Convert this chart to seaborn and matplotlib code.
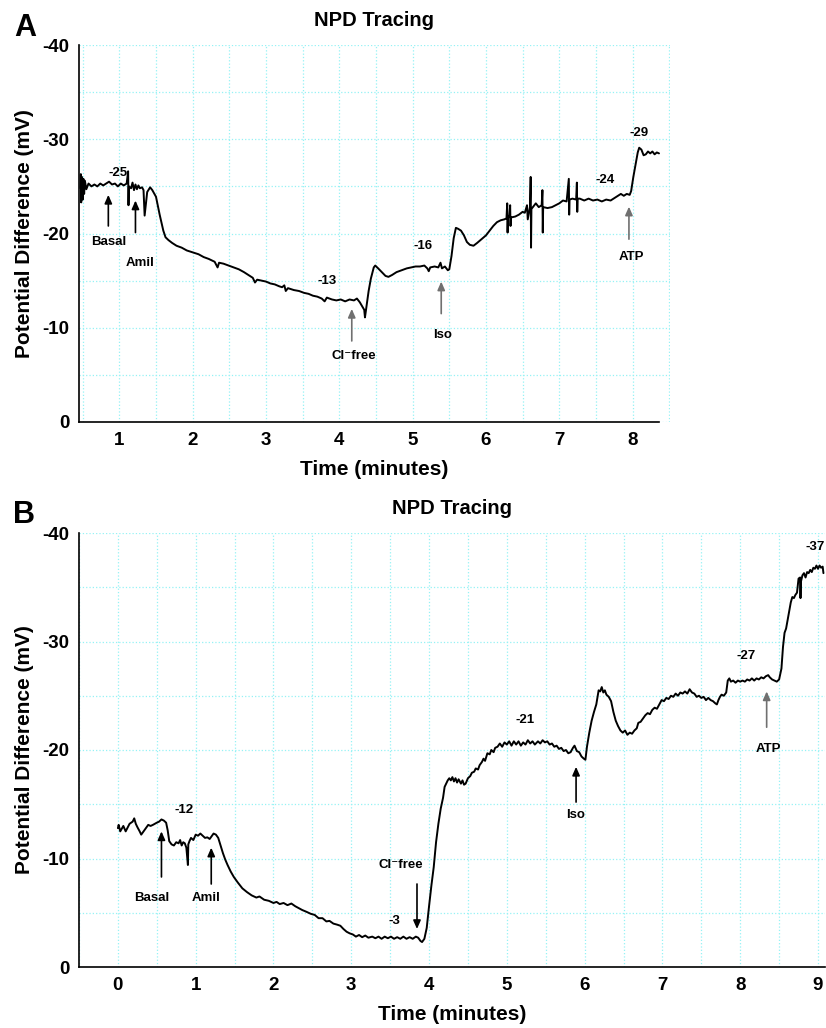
import numpy as np
import pandas as pd
import matplotlib
matplotlib.use("Agg")
import matplotlib.pyplot as plt
import seaborn as sns

# ---- panel A trace (time in minutes, PD in mV) ----
time_a = [0.47, 0.475, 0.48, 0.49, 0.50, 0.51, 0.52, 0.53, 0.55, 0.58, 0.62, 0.66, 0.70, 0.74,
          0.78, 0.82, 0.86, 0.90, 0.94, 0.98, 1.02, 1.06, 1.10, 1.12, 1.125, 1.13, 1.16, 1.18,
          1.20, 1.22, 1.24, 1.26, 1.28, 1.31, 1.33, 1.345, 1.36, 1.38, 1.42, 1.45, 1.50, 1.55,
          1.60, 1.63, 1.67, 1.72, 1.78, 1.85, 1.92, 2.00, 2.08, 2.15, 2.22, 2.30, 2.34, 2.36,
          2.42, 2.49, 2.56, 2.63, 2.70, 2.76, 2.82, 2.85, 2.88, 2.94, 3.00, 3.06, 3.12, 3.18,
          3.22, 3.25, 3.27, 3.30, 3.38, 3.45, 3.52, 3.58, 3.64, 3.70, 3.76, 3.80, 3.83, 3.90,
          3.96, 4.02, 4.08, 4.14, 4.20, 4.24, 4.28, 4.31, 4.34, 4.35, 4.37, 4.40, 4.43, 4.47,
          4.49, 4.53, 4.58, 4.63, 4.67, 4.72, 4.78, 4.85, 4.92, 4.98, 5.04, 5.10, 5.16, 5.20,
          5.22, 5.24, 5.30, 5.35, 5.38, 5.40, 5.44, 5.48, 5.50, 5.53, 5.56, 5.59, 5.62, 5.66,
          5.70, 5.74, 5.78, 5.83, 5.88, 5.94, 6.00, 6.05, 6.10, 6.15, 6.20, 6.25, 6.28, 6.29,
          6.295, 6.30, 6.32, 6.33, 6.335, 6.34, 6.40, 6.45, 6.50, 6.53, 6.56, 6.57, 6.60, 6.61,
          6.615, 6.62, 6.65, 6.68, 6.72, 6.76, 6.77, 6.775, 6.78, 6.84, 6.90, 6.95, 7.00, 7.05,
          7.10, 7.13, 7.135, 7.14, 7.18, 7.23, 7.24, 7.245, 7.25, 7.28, 7.34, 7.40, 7.46, 7.52,
          7.58, 7.64, 7.70, 7.76, 7.80, 7.84, 7.88, 7.92, 7.96, 7.98, 8.01, 8.04, 8.07, 8.09,
          8.12, 8.15, 8.18, 8.21, 8.24, 8.27, 8.30, 8.33, 8.36]
pd_a = [-24.8, -26.3, -23.3, -26.0, -23.6, -25.8, -24.2, -25.6, -24.7, -25.3, -25.0, -25.2, -25.0, -25.3,
        -25.1, -25.3, -25.5, -25.2, -25.3, -25.0, -25.3, -25.1, -25.3, -26.6, -23.0, -25.0, -24.8, -25.4,
        -24.6, -25.2, -24.7, -25.1, -24.8, -24.9, -24.6, -21.9, -23.0, -24.4, -24.9, -24.6, -23.9, -22.0,
        -20.3, -19.6, -19.3, -19.0, -18.7, -18.5, -18.2, -18.0, -17.8, -17.5, -17.3, -17.0, -16.4, -16.9,
        -16.8, -16.6, -16.4, -16.2, -15.9, -15.6, -15.3, -14.8, -15.1, -15.0, -14.9, -14.7, -14.6, -14.4,
        -14.3, -14.5, -13.9, -14.2, -14.0, -13.9, -13.7, -13.6, -13.4, -13.3, -13.1, -12.8, -13.2, -13.0,
        -12.9, -13.0, -12.8, -13.0, -12.9, -13.1, -12.7, -12.3, -11.9, -11.1, -12.2, -13.9, -15.2, -16.4,
        -16.6, -16.3, -15.9, -15.5, -15.4, -15.6, -15.9, -16.1, -16.3, -16.4, -16.5, -16.5, -16.6, -16.3,
        -16.0, -16.4, -16.5, -16.4, -16.9, -16.3, -16.5, -16.1, -16.2, -17.6, -19.5, -20.6, -20.5, -20.3,
        -19.8, -19.1, -18.8, -18.7, -19.0, -19.4, -19.8, -20.3, -20.8, -21.2, -21.4, -21.5, -21.6, -23.2,
        -20.1, -21.6, -21.9, -23.0, -20.8, -21.7, -21.8, -22.0, -22.3, -22.2, -23.0, -21.5, -22.8, -26.0,
        -18.5, -22.6, -22.9, -23.2, -22.8, -23.0, -24.6, -20.1, -22.8, -22.7, -22.8, -23.0, -23.2, -23.5,
        -23.4, -25.8, -22.0, -23.6, -23.7, -23.6, -25.4, -22.3, -23.7, -23.7, -23.5, -23.7, -23.5, -23.6,
        -23.4, -23.6, -23.5, -23.8, -24.0, -24.2, -24.0, -24.2, -24.1, -24.5, -26.0, -27.3, -28.6, -29.1,
        -28.9, -28.3, -28.4, -28.7, -28.5, -28.7, -28.4, -28.6, -28.5]

# ---- panel B trace ----
time_b = [0.00, 0.01, 0.03, 0.07, 0.10, 0.15, 0.19, 0.21, 0.23, 0.25, 0.28, 0.30, 0.33, 0.36, 0.39,
          0.42, 0.45, 0.50, 0.53, 0.56, 0.59, 0.62, 0.64, 0.66, 0.69, 0.72, 0.75, 0.78, 0.80, 0.82,
          0.84, 0.86, 0.88, 0.90, 0.905, 0.92, 0.94, 0.97, 1.00, 1.03, 1.06, 1.09, 1.12, 1.15, 1.18,
          1.21, 1.23, 1.26, 1.29, 1.32, 1.35, 1.38, 1.41, 1.45, 1.49, 1.54, 1.60, 1.66, 1.72, 1.78,
          1.82, 1.88, 1.94, 2.00, 2.04, 2.08, 2.13, 2.18, 2.23, 2.28, 2.33, 2.37, 2.42, 2.48, 2.53,
          2.58, 2.63, 2.68, 2.72, 2.77, 2.82, 2.86, 2.90, 2.94, 2.98, 3.02, 3.06, 3.10, 3.14, 3.18,
          3.22, 3.27, 3.31, 3.35, 3.39, 3.43, 3.47, 3.51, 3.55, 3.59, 3.63, 3.67, 3.71, 3.75, 3.79,
          3.83, 3.86, 3.89, 3.91, 3.94, 3.97, 4.00, 4.03, 4.06, 4.09, 4.12, 4.15, 4.18, 4.20, 4.22,
          4.24, 4.26, 4.28, 4.30, 4.32, 4.34, 4.36, 4.38, 4.41, 4.43, 4.45, 4.47, 4.50, 4.53, 4.55,
          4.58, 4.60, 4.63, 4.65, 4.68, 4.70, 4.72, 4.75, 4.78, 4.80, 4.83, 4.85, 4.88, 4.91, 4.94,
          4.97, 5.00, 5.03, 5.06, 5.09, 5.12, 5.15, 5.18, 5.21, 5.24, 5.27, 5.30, 5.33, 5.36, 5.40,
          5.43, 5.46, 5.49, 5.52, 5.55, 5.58, 5.61, 5.64, 5.67, 5.70, 5.73, 5.76, 5.79, 5.82, 5.85,
          5.87, 5.90, 5.93, 5.96, 5.99, 6.01, 6.03, 6.06, 6.09, 6.12, 6.15, 6.18, 6.20, 6.22, 6.24,
          6.26, 6.28, 6.31, 6.34, 6.37, 6.40, 6.43, 6.46, 6.49, 6.52, 6.55, 6.58, 6.61, 6.64, 6.67,
          6.69, 6.72, 6.75, 6.78, 6.81, 6.84, 6.87, 6.90, 6.93, 6.96, 6.99, 7.02, 7.05, 7.08, 7.11,
          7.14, 7.17, 7.20, 7.23, 7.26, 7.29, 7.32, 7.35, 7.38, 7.41, 7.44, 7.47, 7.50, 7.53, 7.56,
          7.59, 7.62, 7.65, 7.68, 7.70, 7.72, 7.74, 7.76, 7.79, 7.82, 7.84, 7.86, 7.88, 7.91, 7.94,
          7.97, 8.00, 8.03, 8.06, 8.09, 8.12, 8.15, 8.18, 8.21, 8.24, 8.27, 8.30, 8.33, 8.36, 8.38,
          8.41, 8.44, 8.47, 8.50, 8.53, 8.55, 8.57, 8.59, 8.61, 8.63, 8.65, 8.67, 8.69, 8.71, 8.73,
          8.75, 8.77, 8.775, 8.78, 8.80, 8.82, 8.84, 8.86, 8.88, 8.90, 8.92, 8.94, 8.96, 8.98, 9.00,
          9.02, 9.04, 9.06, 9.07]
pd_b = [-12.8, -13.1, -12.5, -13.0, -12.5, -13.2, -13.4, -13.7, -13.2, -12.9, -12.5, -12.2, -12.5, -12.8, -13.1,
        -13.0, -13.1, -13.3, -13.4, -13.6, -13.5, -13.3, -12.6, -11.6, -11.3, -11.2, -11.5, -11.4, -11.7, -11.2,
        -11.5, -11.4, -11.0, -9.4, -11.3, -11.6, -11.9, -11.7, -12.2, -12.1, -12.3, -12.1, -11.9, -11.95, -11.8,
        -12.1, -12.3, -12.2, -11.9, -11.2, -10.5, -9.9, -9.4, -8.8, -8.3, -7.8, -7.25, -6.9, -6.6, -6.4,
        -6.5, -6.2, -6.1, -5.9, -6.0, -5.8, -5.9, -5.7, -5.85, -5.6, -5.4, -5.25, -5.1, -4.9, -4.8,
        -4.5, -4.5, -4.2, -4.25, -4.0, -3.9, -3.8, -3.5, -3.25, -3.1, -3.0, -2.8, -2.95, -2.75, -2.9,
        -2.7, -2.8, -2.65, -2.8, -2.6, -2.8, -2.65, -2.8, -2.6, -2.75, -2.6, -2.8, -2.6, -2.75, -2.6,
        -2.8, -2.7, -2.4, -2.3, -2.6, -3.6, -5.6, -7.5, -9.2, -11.5, -13.2, -14.6, -15.6, -16.6, -16.9,
        -17.2, -17.4, -17.2, -17.5, -17.1, -17.4, -17.0, -17.3, -16.9, -17.2, -16.8, -16.9, -17.4, -17.6, -17.9,
        -18.0, -18.3, -18.2, -18.6, -18.9, -19.2, -19.0, -19.7, -19.6, -20.0, -19.8, -20.2, -20.3, -20.6, -20.3,
        -20.7, -20.5, -20.8, -20.4, -20.8, -20.5, -20.8, -20.4, -20.7, -20.5, -20.9, -20.6, -20.8, -20.5, -20.8,
        -20.6, -20.9, -20.7, -20.8, -20.5, -20.6, -20.3, -20.4, -20.1, -20.2, -19.9, -20.0, -19.7, -19.8, -20.2,
        -20.4, -19.9, -19.8, -19.4, -19.2, -19.1, -20.3, -21.6, -22.7, -23.5, -24.2, -25.5, -25.4, -25.8, -25.3,
        -25.5, -25.1, -24.9, -24.5, -23.5, -22.7, -22.2, -21.8, -21.6, -21.8, -21.4, -21.6, -21.5, -21.8, -22.0,
        -22.5, -22.6, -22.9, -23.2, -23.4, -23.3, -23.7, -23.9, -23.8, -24.2, -24.6, -24.5, -24.8, -24.7, -25.0,
        -24.9, -25.2, -25.0, -25.3, -25.2, -25.4, -25.2, -25.6, -25.3, -25.2, -24.9, -25.0, -24.8, -24.9, -24.6,
        -24.8, -24.6, -24.5, -24.3, -24.2, -24.6, -24.9, -25.1, -25.0, -25.3, -26.4, -26.6, -26.3, -26.4, -26.2,
        -26.4, -26.3, -26.4, -26.3, -26.5, -26.4, -26.6, -26.4, -26.6, -26.5, -26.7, -26.6, -26.8, -26.9, -26.7,
        -26.5, -26.4, -26.3, -26.5, -27.5, -29.5, -30.8, -31.2, -32.0, -32.8, -33.6, -34.1, -34.0, -34.3, -34.5,
        -35.8, -35.9, -34.0, -35.5, -36.1, -36.3, -35.9, -36.4, -36.3, -36.6, -36.4, -36.8, -36.7, -37.0, -36.7,
        -37.0, -36.8, -36.9, -36.3]

# ---- annotations: (label, x, y) for values, (label, x_text, y_text, x_arrow, y_head, y_tail, colour) ----
values_a = [("-25", 0.98, -26.4), ("-13", 3.84, -15.0), ("-16", 5.14, -18.7),
            ("-24", 7.63, -25.7), ("-29", 8.09, -30.7)]
arrows_a = [("Basal", 0.85, -19.1, 0.85, -24.1, -20.8, "black"),
            ("Amil", 1.29, -16.9, 1.22, -23.5, -20.1, "black"),
            ("Cl\u207bfree", 4.20, -7.0, 4.17, -12.0, -8.6, "#707070"),
            ("Iso", 5.41, -9.2, 5.39, -14.9, -11.5, "#707070"),
            ("ATP", 7.98, -17.5, 7.95, -22.85, -19.4, "#707070")]

values_b = [("-12", 0.855, -14.5), ("-3", 3.55, -4.2), ("-21", 5.24, -22.8),
            ("-27", 8.08, -28.7), ("-37", 8.97, -38.7)]
arrows_b = [("Basal", 0.43, -6.4, 0.56, -12.5, -8.3, "black"),
            ("Amil", 1.13, -6.4, 1.20, -11.0, -7.65, "black"),
            ("Cl\u207bfree", 3.64, -9.4, 3.845, -3.5, -7.65, "black"),
            ("Iso", 5.885, -14.0, 5.89, -18.45, -15.2, "black"),
            ("ATP", 8.365, -20.1, 8.34, -25.4, -22.1, "#707070")]

FONT = ["Liberation Sans", "DejaVu Sans"]


def style_axes(ax, xlim, xmajor, spine_end=None):
    ax.set_xlim(*xlim)
    ax.set_ylim(0, -40)
    ax.set_xticks(xmajor)
    ax.set_xticks(np.arange(xmajor[0] - 0.5, xlim[1], 0.5), minor=True)
    ax.set_yticks([0, -10, -20, -30, -40])
    ax.set_yticks([-5, -15, -25, -35], minor=True)
    ax.grid(True, which="both", color="#95f2f5", linestyle=":", linewidth=0.9)
    ax.set_axisbelow(True)
    sns.despine(ax=ax)
    for side in ["left", "bottom"]:
        ax.spines[side].set_linewidth(1.2)
        ax.spines[side].set_color("black")
    if spine_end is not None:
        ax.spines["bottom"].set_bounds(xlim[0], spine_end)
    ax.tick_params(which="major", direction="out", length=4, width=1, pad=3, colors="black")
    ax.tick_params(which="minor", direction="out", length=2.5, width=0.8, colors="black")
    for lab in ax.get_xticklabels() + ax.get_yticklabels():
        lab.set_fontsize(13.5)
        lab.set_fontweight("bold")
    ax.set_xlabel("Time (minutes)", fontsize=15, fontweight="bold", labelpad=8)
    ax.set_ylabel("Potential Difference (mV)", fontsize=15, fontweight="bold", labelpad=6)
    ax.set_title("NPD Tracing", fontsize=14.5, fontweight="bold", pad=14)


def annotate(ax, values, arrows):
    for lab, x, y in values:
        ax.text(x, y, lab, ha="center", va="center", fontsize=9.5, fontweight="bold")
    for lab, xt, yt, xa, yh, ytl, col in arrows:
        ax.annotate("", xy=(xa, yh), xytext=(xa, ytl),
                    arrowprops=dict(arrowstyle="-|>,head_length=0.5,head_width=0.22",
                                    color=col, lw=1.2, shrinkA=0, shrinkB=0))
        ax.text(xt, yt, lab, ha="center", va="center", fontsize=9.5, fontweight="bold",
                family=FONT)


sns.set_style("white")
plt.rcParams["font.family"] = FONT
plt.rcParams["axes.unicode_minus"] = False
plt.rcParams["text.color"] = "black"
plt.rcParams["axes.labelcolor"] = "black"
plt.rcParams["xtick.color"] = "black"
plt.rcParams["ytick.color"] = "black"

fig = plt.figure(figsize=(8.26, 10.28), dpi=100)
ax_a = fig.add_axes([79 / 826, 1 - 422 / 1028, 591 / 826, 377 / 1028])
ax_b = fig.add_axes([79 / 826, 1 - 967 / 1028, 746 / 826, 434 / 1028])

trace_a = pd.DataFrame({"Time": time_a, "PD": pd_a})
trace_b = pd.DataFrame({"Time": time_b, "PD": pd_b})

sns.lineplot(data=trace_a, x="Time", y="PD", ax=ax_a, color="black", lw=1.4,
             estimator=None, sort=False)
sns.lineplot(data=trace_b, x="Time", y="PD", ax=ax_b, color="black", lw=1.4,
             estimator=None, sort=False)

style_axes(ax_a, (0.45, 8.51), list(range(1, 9)), spine_end=8.36)
style_axes(ax_b, (-0.025, 9.09), list(range(0, 10)))

annotate(ax_a, values_a, arrows_a)
annotate(ax_b, values_b, arrows_b)

fig.text(25 / 826, 1 - 28 / 1028, "A", fontsize=22, fontweight="bold", ha="center", va="center")
fig.text(24 / 826, 1 - 515 / 1028, "B", fontsize=22, fontweight="bold", ha="center", va="center")

fig.savefig("out.png", dpi=100)
